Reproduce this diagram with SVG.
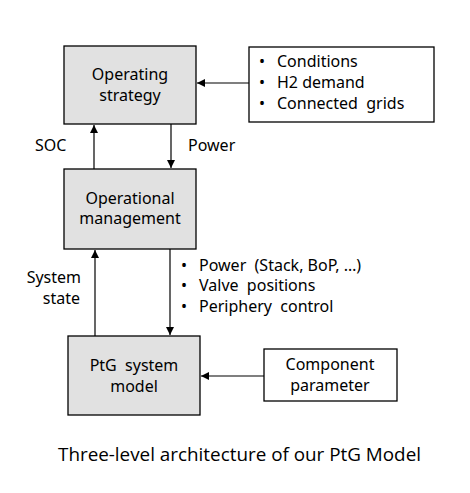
<svg xmlns="http://www.w3.org/2000/svg" width="470" height="493" viewBox="0 0 470 493">
<defs>
<marker id="ah" viewBox="0 0 10 10" refX="10" refY="5" markerWidth="8" markerHeight="8" markerUnits="userSpaceOnUse" orient="auto">
<path d="M0,0 L10,5 L0,10 Z" fill="#000"/>
</marker>
<style>
.box{fill:#e1e1e1;stroke:#000;stroke-width:1.3}
.wbox{fill:#fff;stroke:#000;stroke-width:1.3}
.t{font-family:"Noto Sans","DejaVu Sans",sans-serif;font-size:16px;fill:#000}
.c{text-anchor:middle}
.ln{stroke:#000;stroke-width:1.2;fill:none;marker-end:url(#ah)}
</style>
</defs>
<rect width="470" height="493" fill="#fff"/>
<g id="connectors">
<line class="ln" x1="249" y1="83" x2="197" y2="83"/>
<line class="ln" x1="94" y1="169" x2="94" y2="125"/>
<line class="ln" x1="171" y1="124" x2="171" y2="168"/>
<line class="ln" x1="95" y1="336" x2="95" y2="250"/>
<line class="ln" x1="170" y1="249" x2="170" y2="335"/>
<line class="ln" x1="264" y1="376" x2="201" y2="376"/>
<text class="t" x="35" y="151">SOC</text>
<text class="t" x="188" y="151">Power</text>
<text class="t" x="81" y="283" text-anchor="end">System</text>
<text class="t" x="80" y="304" text-anchor="end">state</text>
<text class="t" x="181" y="271">•</text><text class="t" x="199" y="271" xml:space="preserve">Power  (Stack, BoP, …)</text>
<text class="t" x="181" y="291">•</text><text class="t" x="199" y="291" xml:space="preserve">Valve  positions</text>
<text class="t" x="181" y="312">•</text><text class="t" x="199" y="312" xml:space="preserve">Periphery  control</text>
</g>
<g id="operating-strategy">
<rect class="box" x="64" y="46" width="132" height="78"/>
<text class="t c" x="130" y="80">Operating</text>
<text class="t c" x="130" y="101">strategy</text>
</g>
<g id="inputs">
<rect class="wbox" x="249" y="47" width="185" height="75"/>
<text class="t" x="259" y="67">•</text><text class="t" x="277" y="67">Conditions</text>
<text class="t" x="259" y="88">•</text><text class="t" x="277" y="88">H2 demand</text>
<text class="t" x="259" y="109">•</text><text class="t" x="277" y="109" xml:space="preserve">Connected  grids</text>
</g>
<g id="operational-management">
<rect class="box" x="64" y="169" width="132" height="80"/>
<text class="t c" x="130" y="204">Operational</text>
<text class="t c" x="130" y="224">management</text>
</g>
<g id="ptg-system-model">
<rect class="box" x="68" y="336" width="132" height="79"/>
<text class="t c" x="134" y="371" xml:space="preserve">PtG  system</text>
<text class="t c" x="134" y="392">model</text>
</g>
<g id="component-parameter">
<rect class="wbox" x="264" y="349" width="133" height="52"/>
<text class="t c" x="330" y="370">Component</text>
<text class="t c" x="330" y="391">parameter</text>
</g>
<text x="58" y="461" font-family="'Open Sans','Noto Sans',sans-serif" font-size="19" textLength="363" lengthAdjust="spacingAndGlyphs">Three-level architecture of our PtG Model</text>
</svg>
